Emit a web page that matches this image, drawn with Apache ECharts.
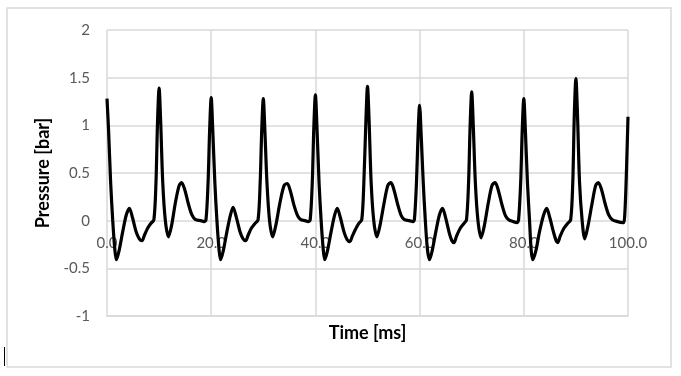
<!DOCTYPE html>
<html>
<head>
<meta charset="utf-8">
<script src="https://cdn.jsdelivr.net/npm/echarts@6/dist/echarts.min.js"></script>
<style>
  html, body { margin: 0; padding: 0; background: #fff; }
  #chart { width: 681px; height: 376px; }
</style>
</head>
<body>
<div id="chart"></div>
<script>
// values
var timeMs = [
  0, 0.3, 0.7, 1.1, 1.5, 1.8, 2.3, 3.0, 3.7, 4.3, 4.9, 5.6, 6.2, 6.7, 7.2, 7.8, 8.4, 9.0, 9.4, 9.7,
  10.0, 10.3, 10.7, 11.2, 11.8, 12.4, 13.1, 13.8, 14.3, 14.9, 15.6, 16.3, 17.0, 18.0, 18.6, 19.0, 19.4, 19.7,
  20.0, 20.3, 20.7, 21.1, 21.5, 21.8, 22.3, 23.0, 23.7, 24.2, 24.8, 25.5, 26.1, 26.6, 27.1, 27.7, 28.4, 29.0, 29.4, 29.7,
  30.0, 30.3, 30.7, 31.2, 31.8, 32.4, 33.2, 34.0, 34.6, 35.2, 35.9, 36.6, 37.2, 38.0, 38.6, 39.0, 39.4, 39.7,
  40.0, 40.3, 40.7, 41.1, 41.5, 41.8, 42.3, 43.0, 43.7, 44.2, 44.8, 45.5, 46.1, 46.6, 47.1, 47.7, 48.3, 48.9, 49.3, 49.7,
  50.0, 50.3, 50.7, 51.2, 51.8, 52.4, 53.2, 53.9, 54.5, 55.1, 55.8, 56.5, 57.1, 58.0, 58.7, 59.0, 59.4, 59.7,
  60.0, 60.3, 60.7, 61.1, 61.5, 61.9, 62.4, 63.1, 63.8, 64.4, 65.0, 65.7, 66.2, 66.6, 67.1, 67.8, 68.5, 69.0, 69.4, 69.7,
  70.0, 70.3, 70.7, 71.2, 71.8, 72.4, 73.2, 73.9, 74.5, 75.1, 75.8, 76.5, 77.1, 78.0, 78.7, 79.0, 79.4, 79.7,
  80.0, 80.3, 80.7, 81.1, 81.4, 81.7, 82.3, 83.0, 83.8, 84.4, 85.0, 85.7, 86.2, 86.5, 87.0, 87.7, 88.4, 89.0, 89.4, 89.7,
  90.0, 90.3, 90.7, 91.2, 91.7, 92.3, 93.1, 93.8, 94.3, 94.9, 95.6, 96.3, 97.0, 98.0, 99.0, 99.2, 99.5, 99.8, 100.0
];
var pressureBar = [
  1.28, 0.95, 0.40, 0.00, -0.30, -0.41, -0.32, -0.12, 0.06, 0.13, 0.03, -0.12, -0.19, -0.21, -0.15, -0.08, -0.03, 0.01, 0.40, 1.04,
  1.39, 1.04, 0.40, 0.00, -0.17, -0.05, 0.18, 0.36, 0.40, 0.33, 0.18, 0.06, 0.01, 0.00, -0.01, 0.01, 0.40, 0.95,
  1.29, 0.95, 0.40, 0.00, -0.30, -0.41, -0.32, -0.12, 0.06, 0.14, 0.04, -0.11, -0.19, -0.21, -0.15, -0.08, -0.03, 0.01, 0.40, 0.95,
  1.28, 0.95, 0.40, 0.00, -0.17, -0.05, 0.19, 0.37, 0.39, 0.31, 0.16, 0.05, 0.01, 0.00, -0.01, 0.01, 0.40, 0.98,
  1.32, 0.98, 0.40, 0.00, -0.30, -0.41, -0.32, -0.12, 0.06, 0.13, 0.03, -0.12, -0.20, -0.22, -0.16, -0.09, -0.03, 0.01, 0.40, 1.06,
  1.41, 1.06, 0.40, 0.00, -0.17, -0.05, 0.19, 0.37, 0.40, 0.32, 0.17, 0.05, 0.01, 0.00, -0.01, 0.01, 0.40, 0.90,
  1.21, 0.90, 0.40, 0.00, -0.30, -0.41, -0.32, -0.12, 0.06, 0.13, 0.03, -0.13, -0.21, -0.23, -0.16, -0.08, -0.03, 0.01, 0.40, 1.00,
  1.35, 1.00, 0.40, 0.00, -0.18, -0.06, 0.19, 0.37, 0.40, 0.32, 0.17, 0.05, 0.01, -0.01, -0.02, 0.01, 0.40, 0.95,
  1.28, 0.95, 0.40, 0.00, -0.30, -0.41, -0.32, -0.12, 0.06, 0.13, 0.03, -0.12, -0.21, -0.23, -0.16, -0.08, -0.03, 0.01, 0.40, 1.12,
  1.49, 1.12, 0.40, 0.00, -0.19, -0.06, 0.18, 0.37, 0.40, 0.33, 0.18, 0.06, 0.01, -0.01, -0.02, -0.02, 0.20, 0.70, 1.09
];

var data = [];
for (var i = 0; i < timeMs.length; i++) {
  data.push([timeMs[i], pressureBar[i]]);
}

var gridColor = '#d9d9d9';
var labelFont = 'Lato';

var chart = echarts.init(document.getElementById('chart'));
chart.setOption({
  animation: false,
  backgroundColor: '#fff',
  graphic: [
    { type: 'rect', shape: { x: 7, y: 8, width: 664, height: 359 },
      style: { fill: 'none', stroke: gridColor, lineWidth: 1.5 } },
    { type: 'line', shape: { x1: 4.5, y1: 347, x2: 4.5, y2: 366 },
      style: { stroke: '#000', lineWidth: 1 } }
  ],
  grid: { left: 107, right: 53, top: 30, bottom: 60, outerBoundsMode: 'none', containLabel: false },
  xAxis: {
    type: 'value',
    min: 0, max: 100, interval: 20,
    name: 'Time [ms]',
    nameLocation: 'middle',
    nameGap: 8,
    nameMoveOverlap: false,
    nameTextStyle: { fontFamily: labelFont, fontWeight: 'bold', fontSize: 18, color: '#000' },
    axisLine: { onZero: false, lineStyle: { color: gridColor, width: 1.5 } },
    axisTick: { show: false },
    // labels sit just under the zero line, as in the source chart
    axisLabel: { margin: -80, fontFamily: labelFont, fontSize: 15, color: '#595959',
      formatter: function (v) { return v.toFixed(1); } },
    splitLine: { show: true, lineStyle: { color: gridColor, width: 1.5 } }
  },
  yAxis: {
    type: 'value',
    min: -1, max: 2, interval: 0.5,
    name: 'Pressure [bar]',
    nameLocation: 'middle',
    nameRotate: 90,
    nameGap: 50,
    nameTextStyle: { fontFamily: labelFont, fontWeight: 'bold', fontSize: 18, color: '#000' },
    axisLine: { show: false },
    axisTick: { show: false },
    axisLabel: { margin: 17, fontFamily: labelFont, fontSize: 15, color: '#595959' },
    splitLine: { show: true, lineStyle: { color: gridColor, width: 1.5 } }
  },
  series: [{
    type: 'line',
    data: data,
    showSymbol: false,
    smooth: 0.3,
    lineStyle: { color: '#000', width: 3.2 },
    z: 3
  }]
});
</script>
</body>
</html>
